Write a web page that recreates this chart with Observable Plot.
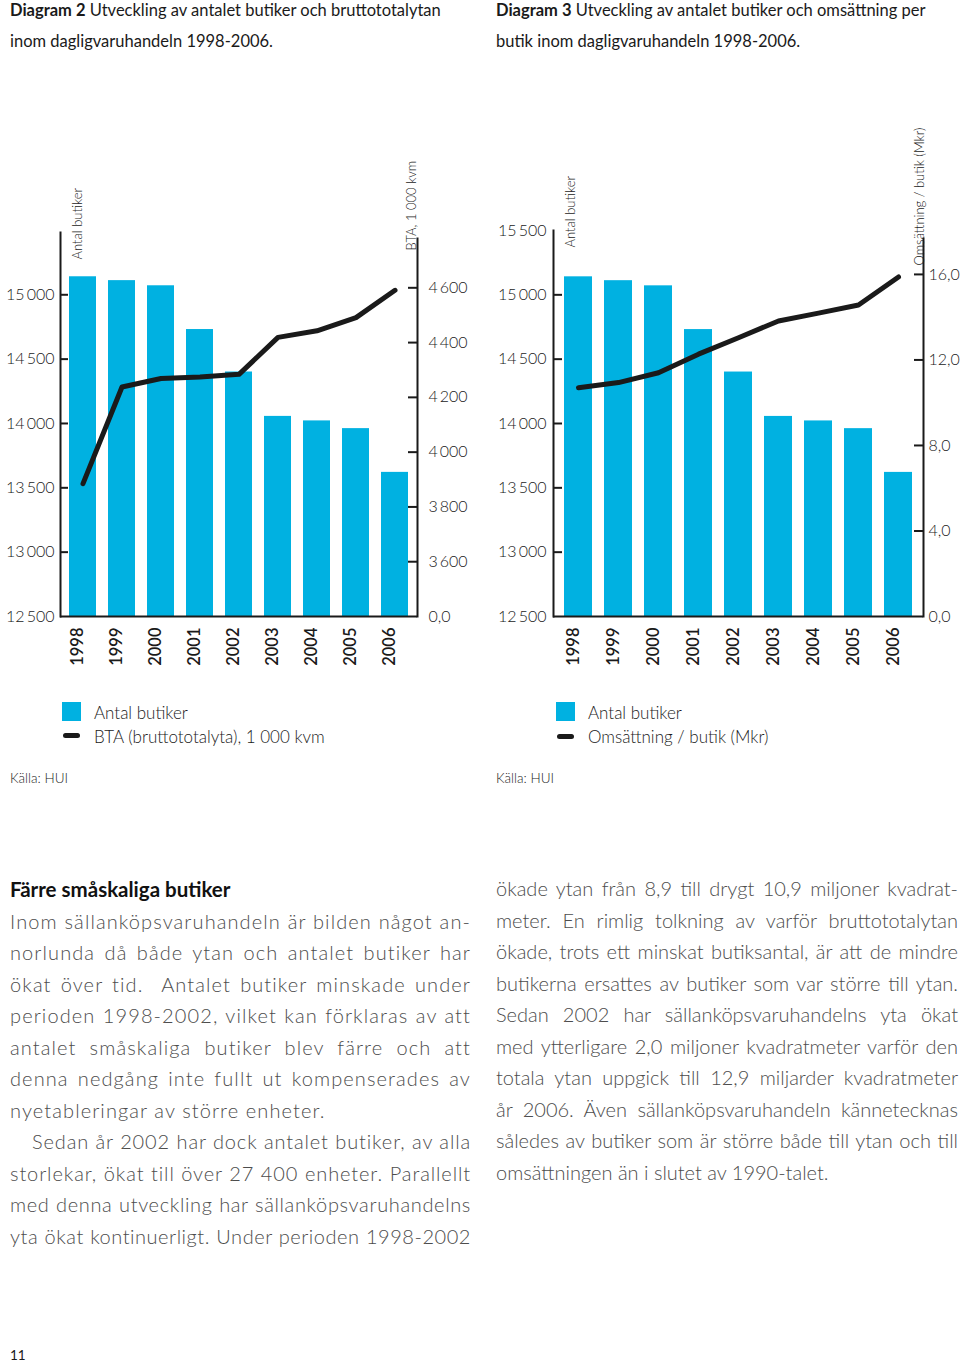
<!DOCTYPE html>
<html lang="sv">
<head>
<meta charset="utf-8">
<script src="https://cdn.jsdelivr.net/npm/d3@7"></script>
<script src="https://cdn.jsdelivr.net/npm/@observablehq/plot@0.6"></script>
<style>
  html, body { margin: 0; padding: 0; background: #fff; }
  #page { position: relative; width: 960px; height: 1364px; overflow: hidden;
          font-family: Lato, "Open Sans", sans-serif; color: #1a1a1a; }
  .abs { position: absolute; white-space: nowrap; line-height: 1.2; }
  .title { font-size: 16.5px; font-weight: 400; }
  .title b { font-weight: 700; }
  .chart { position: absolute; top: 80px; width: 480px; height: 600px; }
  .chart svg { position: absolute; left: 0; top: 0; overflow: visible; }
  .lg { font-size: 17px; font-weight: 300; }
  .sw { position: absolute; width: 19px; height: 19px; background: #00b1e1; }
  .lsw { position: absolute; width: 17px; height: 5px; border-radius: 2.5px; background: #1a1a1a; }
  .src { font-size: 13.5px; font-weight: 300; }
  .head { font-size: 20.5px; font-weight: 700; color: #111; }
  .col { position: absolute; font-size: 20px; font-weight: 300; line-height: 31.5px; color: #4d4d4d; }
  .col .l { white-space: nowrap; }
  .col .l.j { text-align: justify; text-align-last: justify; white-space: normal; }
  .col .l.ind { text-indent: 22px; }
</style>
</head>
<body>
<div id="page">
  <div class="abs title" style="left:10px;top:0.5px"><b>Diagram 2</b> Utveckling av antalet butiker och bruttototalytan</div>
  <div class="abs title" style="left:10px;top:32px">inom dagligvaruhandeln 1998-2006.</div>
  <div class="abs title" style="left:496px;top:0.5px"><b>Diagram 3</b> Utveckling av antalet butiker och omsättning per</div>
  <div class="abs title" style="left:496px;top:32px">butik inom dagligvaruhandeln 1998-2006.</div>

  <div class="chart" id="chart1" style="left:0px"></div>
  <div class="chart" id="chart2" style="left:480px"></div>

  <div class="sw" style="left:62px;top:702px"></div>
  <div class="abs lg" id="lg1a" style="left:94px;top:702.5px"></div>
  <div class="lsw" style="left:63px;top:733px"></div>
  <div class="abs lg" id="lg1b" style="left:94px;top:726.5px"></div>

  <div class="sw" style="left:556px;top:702px"></div>
  <div class="abs lg" id="lg2a" style="left:588px;top:702.5px"></div>
  <div class="lsw" style="left:557px;top:733.5px"></div>
  <div class="abs lg" id="lg2b" style="left:588px;top:726.5px"></div>

  <div class="abs src" style="left:10px;top:769.5px">Källa: HUI</div>
  <div class="abs src" style="left:496px;top:769.5px">Källa: HUI</div>

  <div class="abs head" style="left:10px;top:877px">Färre småskaliga butiker</div>

  <div class="col" id="colL" style="left:10px;top:905.8px;width:461px">
    <div class="l"><span>Inom sällanköpsvaruhandeln är bilden något an-</span></div>
    <div class="l"><span>norlunda då både ytan och antalet butiker har</span></div>
    <div class="l"><span>ökat över tid.&nbsp; Antalet butiker minskade under</span></div>
    <div class="l"><span>perioden 1998-2002, vilket kan förklaras av att</span></div>
    <div class="l"><span>antalet småskaliga butiker blev färre och att</span></div>
    <div class="l"><span>denna nedgång inte fullt ut kompenserades av</span></div>
    <div class="l last"><span>nyetableringar av större enheter.</span></div>
    <div class="l ind"><span>Sedan år 2002 har dock antalet butiker, av alla</span></div>
    <div class="l"><span>storlekar, ökat till över 27 400 enheter. Parallellt</span></div>
    <div class="l"><span>med denna utveckling har sällanköpsvaruhandelns</span></div>
    <div class="l"><span>yta ökat kontinuerligt. Under perioden 1998-2002</span></div>
  </div>

  <div class="col" id="colR" style="left:496px;top:873.2px;width:462px">
    <div class="l"><span>ökade ytan från 8,9 till drygt 10,9 miljoner kvadrat-</span></div>
    <div class="l"><span>meter. En rimlig tolkning av varför bruttototalytan</span></div>
    <div class="l"><span>ökade, trots ett minskat butiksantal, är att de mindre</span></div>
    <div class="l"><span>butikerna ersattes av butiker som var större till ytan.</span></div>
    <div class="l"><span>Sedan 2002 har sällanköpsvaruhandelns yta ökat</span></div>
    <div class="l"><span>med ytterligare 2,0 miljoner kvadratmeter varför den</span></div>
    <div class="l"><span>totala ytan uppgick till 12,9 miljarder kvadratmeter</span></div>
    <div class="l"><span>år 2006. Även sällanköpsvaruhandeln kännetecknas</span></div>
    <div class="l"><span>således av butiker som är större både till ytan och till</span></div>
    <div class="l last"><span>omsättningen än i slutet av 1990-talet.</span></div>
  </div>

  <div class="abs src" style="left:10px;top:1347px;font-weight:400">11</div>
</div>

<script>
// ---------- data ----------
const years = ["1998", "1999", "2000", "2001", "2002", "2003", "2004", "2005", "2006"];
const antalButiker = [15140, 15110, 15070, 14730, 14400, 14055, 14020, 13960, 13620];
const btaTusenKvm = [3885, 4238, 4269, 4274, 4284, 4419, 4443, 4491, 4591];
const omsPerButik = [10.7, 10.94, 11.4, 12.27, 13.04, 13.82, 14.19, 14.57, 15.88];

const leftLabels1 = [12500, 13000, 13500, 14000, 14500, 15000];
const leftLabels2 = [12500, 13000, 13500, 14000, 14500, 15000, 15500];
const leftTickMarks = [13000, 13500, 14000, 14500, 15000];
const btaTicks = [3600, 3800, 4000, 4200, 4400, 4600];
const btaBase = 3400;           // broken axis: bottom of BTA scale labelled "0,0"
const omsTicks = [4, 8, 12, 16];
const omsLabels = [0, 4, 8, 12, 16];

const axisTitles = {
  butiker: "Antal butiker",
  bta: "BTA, 1 000 kvm",
  oms: "Omsättning / butik (Mkr)"
};
const legend1 = ["Antal butiker", "BTA (bruttototalyta), 1 000 kvm"];
const legend2 = ["Antal butiker", "Omsättning / butik (Mkr)"];

// ---------- styling ----------
const BLUE = "#00b1e1";
const INK = "#1a1a1a";
const W = 480, H = 600, MB = 64;
const thin = "\u2009";
const fmtK = d => d3.format(",")(d).replace(/,/g, thin);
const fmtDec = d => d3.format(".1f")(d).replace(".", ",");

const barData = years.map((y, i) => ({year: y, n: antalButiker[i]}));
const btaData = years.map((y, i) => ({year: y, v: btaTusenKvm[i]}));
const omsData = years.map((y, i) => ({year: y, v: omsPerButik[i]}));

const baseStyle = {fontFamily: "Lato, 'Open Sans', sans-serif", fontSize: "16px", color: INK, background: "transparent", overflow: "visible"};
const xScale = {type: "band", domain: years, paddingInner: 0.3, paddingOuter: 0.2, axis: null};

function barsPlot({marginLeft, marginRight, marginTop, top, labels, tickLen, tickPadding, titleDy}) {
  const innerW = W - marginLeft - marginRight;
  return Plot.plot({
    width: W, height: H, marginTop, marginBottom: MB, marginLeft, marginRight,
    style: baseStyle,
    x: xScale,
    y: {domain: [12500, top], axis: null},
    marks: [
      Plot.barY(barData, {x: "year", y1: 12500, y2: "n", fill: BLUE}),
      Plot.ruleY([12500], {stroke: INK, strokeWidth: 2}),
      Plot.frame({anchor: "left", stroke: INK, strokeWidth: 2}),
      Plot.ruleY(leftTickMarks, {stroke: INK, strokeWidth: 2, insetRight: innerW - tickLen}),
      Plot.axisY({anchor: "left", label: null, ticks: labels, tickSize: 0, tickPadding, tickFormat: fmtK, fontWeight: 300, fontSize: 16}),
      Plot.text(years, {x: d => d, text: d => d, frameAnchor: "bottom", rotate: -90, textAnchor: "end", dy: 11, fontWeight: 600, fontSize: 16.5}),
      Plot.text([axisTitles.butiker], {text: d => d, frameAnchor: "top-left", rotate: -90, textAnchor: "start", dx: 12, dy: titleDy, fontSize: 13, fontWeight: 300})
    ]
  });
}

function linePlot({marginLeft, marginRight, data, domain, ticks, labels, fmt, tickLen, tickPadding, title, titleDx, titleDy}) {
  const innerW = W - marginLeft - marginRight;
  return Plot.plot({
    width: W, height: H, marginTop: 158, marginBottom: MB, marginLeft, marginRight,
    style: baseStyle,
    x: xScale,
    y: {domain, axis: null},
    marks: [
      Plot.frame({anchor: "right", stroke: INK, strokeWidth: 2}),
      Plot.ruleY(ticks, {stroke: INK, strokeWidth: 2, insetLeft: innerW - tickLen}),
      Plot.axisY({anchor: "right", label: null, ticks: labels, tickSize: 0, tickPadding, tickFormat: fmt, fontWeight: 300, fontSize: 16}),
      Plot.line(data, {x: "year", y: "v", stroke: INK, strokeWidth: 5, strokeLinejoin: "round", strokeLinecap: "round"}),
      Plot.text([title], {text: d => d, frameAnchor: "top-right", rotate: -90, textAnchor: "start", dx: titleDx, dy: titleDy, fontSize: 13, fontWeight: 300})
    ]
  });
}

// Chart 1
const c1 = document.getElementById("chart1");
c1.append(barsPlot({marginLeft: 60, marginRight: 63, marginTop: 152, top: 15484, labels: leftLabels1, tickLen: 8, tickPadding: 6, titleDy: 27}));
c1.append(linePlot({marginLeft: 60, marginRight: 63, data: btaData, domain: [btaBase, 4780],
  ticks: btaTicks, labels: [btaBase, ...btaTicks], fmt: d => d === btaBase ? "0,0" : fmtK(d),
  tickLen: 9, tickPadding: 11, title: axisTitles.bta, titleDx: -11, titleDy: 12}));

// Chart 2
const c2 = document.getElementById("chart2");
c2.append(barsPlot({marginLeft: 73, marginRight: 37, marginTop: 150, top: 15500, labels: leftLabels2, tickLen: 9, tickPadding: 7, titleDy: 17}));
c2.append(linePlot({marginLeft: 73, marginRight: 37, data: omsData, domain: [0, 17.68],
  ticks: omsTicks, labels: omsLabels, fmt: fmtDec,
  tickLen: 9, tickPadding: 5, title: axisTitles.oms, titleDx: -9, titleDy: 27}));

// Legends
document.getElementById("lg1a").textContent = legend1[0];
document.getElementById("lg1b").textContent = legend1[1];
document.getElementById("lg2a").textContent = legend2[0];
document.getElementById("lg2b").textContent = legend2[1];

// Fit/justify body text lines (left column is set with looser tracking, as in the original)
const tracking = {colL: 1.1, colR: 0};
document.querySelectorAll(".col").forEach(col => {
  const cw = col.clientWidth;
  const base = tracking[col.id] || 0;
  col.querySelectorAll(".l").forEach(l => {
    const span = l.firstElementChild;
    span.style.letterSpacing = base + "px";
    const indent = l.classList.contains("ind") ? 22 : 0;
    const nat = span.getBoundingClientRect().width + indent;
    if (nat > cw - 1) {
      const n = span.textContent.length;
      span.style.letterSpacing = (base - (nat - cw + 2) / n).toFixed(3) + "px";
    }
    if (!l.classList.contains("last")) l.classList.add("j");
  });
});
</script>
</body>
</html>
